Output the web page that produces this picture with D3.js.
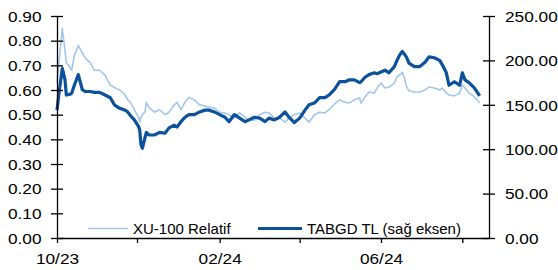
<!DOCTYPE html>
<html>
<head>
<meta charset="utf-8">
<script src="https://cdn.jsdelivr.net/npm/d3@7"></script>
<style>
body { margin: 0; background: #fff; }
text { font-family: "Liberation Sans", Arial, sans-serif; fill: #000; }
</style>
</head>
<body>
<div id="chart-area"></div>
<script>
// data
var dates = ["2023-10-02","2023-10-04","2023-10-06","2023-10-08","2023-10-09","2023-10-12","2023-10-13","2023-10-15",
  "2023-10-18","2023-10-19","2023-10-21","2023-10-23","2023-10-27","2023-10-30","2023-11-03","2023-11-07",
  "2023-11-11","2023-11-14","2023-11-18","2023-11-22","2023-11-24","2023-11-26","2023-11-29","2023-12-02",
  "2023-12-03","2023-12-04","2023-12-05","2023-12-07","2023-12-08","2023-12-10","2023-12-14","2023-12-18",
  "2023-12-22","2023-12-25","2023-12-29","2023-12-31","2024-01-03","2024-01-06","2024-01-09","2024-01-13",
  "2024-01-17","2024-01-21","2024-01-24","2024-01-28","2024-02-01","2024-02-05","2024-02-08","2024-02-12",
  "2024-02-16","2024-02-20","2024-02-23","2024-02-27","2024-03-02","2024-03-06","2024-03-09","2024-03-13",
  "2024-03-17","2024-03-21","2024-03-24","2024-03-28","2024-04-01","2024-04-05","2024-04-08","2024-04-12",
  "2024-04-16","2024-04-20","2024-04-23","2024-04-27","2024-05-01","2024-05-05","2024-05-08","2024-05-12",
  "2024-05-16","2024-05-17","2024-05-20","2024-05-23","2024-05-27","2024-05-29","2024-06-01","2024-06-04",
  "2024-06-07","2024-06-11","2024-06-13","2024-06-15","2024-06-17","2024-06-19","2024-06-20","2024-06-22",
  "2024-06-26","2024-06-30","2024-07-04","2024-07-07","2024-07-11","2024-07-15","2024-07-17","2024-07-20",
  "2024-07-22","2024-07-26","2024-07-30","2024-08-01","2024-08-03","2024-08-06","2024-08-10","2024-08-14"];

var xu100 = [0.63,0.74,0.85,0.76,0.71,0.69,0.68,0.74,
  0.78,0.77,0.75,0.73,0.71,0.68,0.68,0.66,
  0.62,0.61,0.60,0.58,0.56,0.55,0.52,0.49,
  0.47,0.49,0.50,0.51,0.55,0.53,0.51,0.52,
  0.50,0.51,0.54,0.55,0.52,0.55,0.57,0.56,
  0.54,0.535,0.53,0.527,0.51,0.507,0.50,0.486,
  0.507,0.49,0.478,0.478,0.50,0.51,0.507,0.486,
  0.486,0.47,0.486,0.50,0.507,0.486,0.47,0.50,
  0.51,0.507,0.52,0.543,0.56,0.55,0.547,0.56,
  0.568,0.547,0.572,0.592,0.588,0.608,0.628,0.608,
  0.612,0.628,0.653,0.661,0.673,0.641,0.616,0.596,
  0.592,0.592,0.60,0.612,0.608,0.60,0.608,0.588,
  0.58,0.576,0.588,0.62,0.608,0.588,0.572,0.547];

var tabgd = [144,169,191,178,161,162,163,172,
  184,178,167,165,165,164,164,161,
  158,150,146,144,142,138,133,126,
  122,105,101,113,119,116,116,119,
  118,124,127,125,131,136,139,139,
  142,144,144,142,139,136,131,139,
  135,131,133,136,135,131,135,133,
  136,142,136,130,135,144,150,152,
  158,158,161,167,176,176,178,178,
  175,176,181,184,186,185,187,189,
  186,193,200,206,210,206,204,197,
  193,193,198,204,203,200,195,186,
  172,176,172,186,178,175,169,160];

var leftTicks = [0, 0.1, 0.2, 0.3, 0.4, 0.5, 0.6, 0.7, 0.8, 0.9];
var rightTicks = [0, 50, 100, 150, 200, 250];
var xTicks = ["2023-10-02", "2023-12-01", "2024-02-01", "2024-04-01", "2024-06-01", "2024-08-01"];
var xLabels = ["10/23", "", "02/24", "", "06/24", ""];
var seriesNames = ["XU-100 Relatif", "TABGD TL (sağ eksen)"];

var width = 558, height = 270;
var plotLeft = 57, plotRight = 489, plotTop = 16, plotBottom = 238;
var lightBlue = "#a2c7ea", darkBlue = "#0b519c";

var parse = d3.timeParse("%Y-%m-%d");
var data = dates.map((d, i) => ({ date: parse(d), xu: xu100[i], tb: tabgd[i] }));

var x = d3.scaleTime()
  .domain([parse("2023-10-02"), parse("2024-08-21")])
  .range([plotLeft, plotRight]);
var yL = d3.scaleLinear().domain([0, 0.9]).range([plotBottom, plotTop]);
var yR = d3.scaleLinear().domain([0, 250]).range([plotBottom, plotTop]);

var svg = d3.select("#chart-area")
  .append("svg")
  .attr("width", width)
  .attr("height", height);

// lines
var lineXU = d3.line().x((d) => x(d.date)).y((d) => yL(d.xu));
var lineTB = d3.line().x((d) => x(d.date)).y((d) => yR(d.tb));

svg.append("path")
  .datum(data)
  .attr("d", lineXU)
  .attr("fill", "none")
  .attr("stroke", lightBlue)
  .attr("stroke-width", 1.6)
  .attr("stroke-linejoin", "round");

svg.append("path")
  .datum(data)
  .attr("d", lineTB)
  .attr("fill", "none")
  .attr("stroke", darkBlue)
  .attr("stroke-width", 3.2)
  .attr("stroke-linejoin", "round");

// axes
var sx = 1.15;

var leftG = svg.append("g")
  .attr("transform", "translate(" + plotLeft + ",0)")
  .call(d3.axisLeft(yL).tickValues(leftTicks).tickSizeOuter(0).tickFormat(d3.format(".2f")));
leftG.selectAll(".tick line").attr("x1", 6).attr("x2", -6);
leftG.selectAll("text")
  .attr("x", -15.5 / sx)
  .attr("dy", "0.35em")
  .attr("transform", "scale(" + sx + ",1)");

var rightG = svg.append("g")
  .attr("transform", "translate(" + plotRight + ",0)")
  .call(d3.axisRight(yR).tickValues(rightTicks).tickSizeOuter(0).tickFormat(d3.format(".2f")));
rightG.selectAll(".tick line").attr("x1", -6).attr("x2", 6);
rightG.selectAll("text")
  .attr("x", 16 / sx)
  .attr("dy", "0.35em")
  .attr("transform", "scale(" + sx + ",1)");

var bottomG = svg.append("g")
  .attr("transform", "translate(0," + plotBottom + ")")
  .call(d3.axisBottom(x)
    .tickValues(xTicks.map(parse))
    .tickSize(5)
    .tickSizeOuter(0)
    .tickFormat((d, i) => xLabels[i]));
bottomG.selectAll("text")
  .attr("y", 26.5)
  .attr("dy", 0)
  .attr("transform", "scale(" + sx + ",1)");

[leftG, rightG, bottomG].forEach((g) => {
  g.attr("font-size", 15).attr("font-family", null);
  g.selectAll("path, line").attr("stroke", "#000").attr("stroke-width", 1.3);
});

// legend
var legendY = 228.5;
var legend = svg.append("g");
legend.append("line")
  .attr("x1", 88).attr("x2", 128)
  .attr("y1", legendY).attr("y2", legendY)
  .attr("stroke", lightBlue).attr("stroke-width", 1.6);
legend.append("text")
  .attr("x", 133).attr("y", legendY + 5.5)
  .attr("font-size", 15)
  .text(seriesNames[0]);
legend.append("line")
  .attr("x1", 258).attr("x2", 302)
  .attr("y1", legendY).attr("y2", legendY)
  .attr("stroke", darkBlue).attr("stroke-width", 3.2);
legend.append("text")
  .attr("x", 307).attr("y", legendY + 5.5)
  .attr("font-size", 15)
  .text(seriesNames[1]);
</script>
</body>
</html>
